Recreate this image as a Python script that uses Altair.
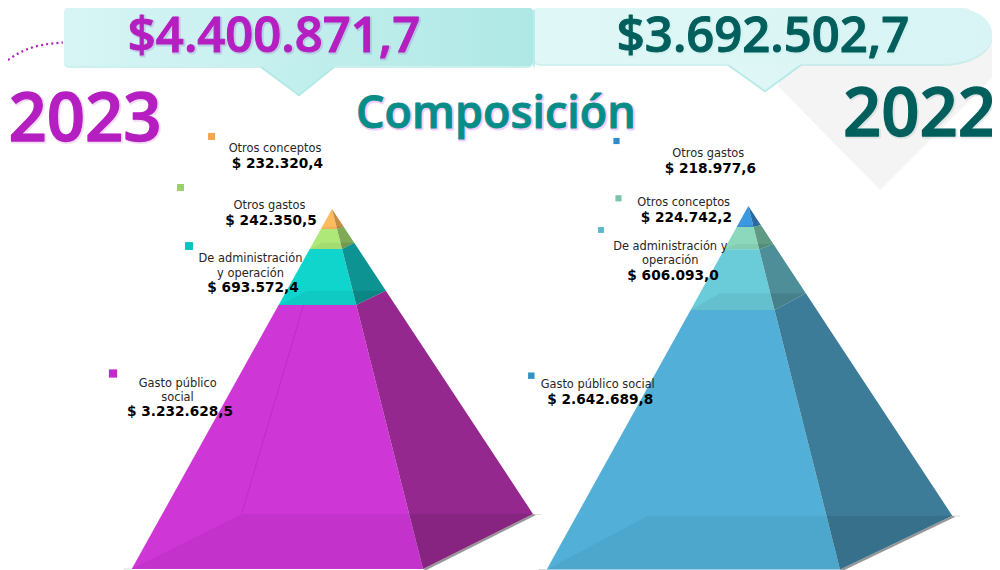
import math
import altair as alt
import pandas as pd

# ---------- data ----------
categories_2023 = ["Otros conceptos", "Otros gastos", "De administración y operación", "Gasto público social"]
values_2023 = ["$ 232.320,4", "$ 242.350,5", "$ 693.572,4", "$ 3.232.628,5"]
categories_2022 = ["Otros gastos", "Otros conceptos", "De administración y operación", "Gasto público social"]
values_2022 = ["$ 218.977,6", "$ 224.742,2", "$ 606.093,0", "$ 2.642.689,8"]
total_2023 = "$4.400.871,7"
total_2022 = "$3.692.502,7"

# ---------- geometry of the drawing (pixel space of the picture) ----------
x_scale = alt.Scale(domain=[8, 992], range=[0, 984], nice=False, zero=False)
y_scale = alt.Scale(domain=[8, 570], range=[0, 562], nice=False, zero=False)
layers = []


def poly(vertices, color, opacity=1.0):
    """Filled convex polygon as an area through the chart's scales."""
    xs = sorted({round(v[0], 3) for v in vertices})
    rows = []
    n = len(vertices)
    for x in xs:
        ys = []
        for i in range(n):
            (x0, y0), (x1, y1) = vertices[i], vertices[(i + 1) % n]
            lo, hi = min(x0, x1), max(x0, x1)
            if lo - 1e-3 <= x <= hi + 1e-3:
                if abs(x1 - x0) < 1e-6:
                    ys += [y0, y1]
                else:
                    ys.append(y0 + (y1 - y0) * (x - x0) / (x1 - x0))
        rows.append({"x": x, "y": min(ys), "y2": max(ys)})
    layers.append(
        alt.Chart(pd.DataFrame(rows))
        .mark_area(color=color, opacity=opacity, interpolate="linear")
        .encode(
            x=alt.X("x:Q", scale=x_scale, axis=None),
            y=alt.Y("y:Q", scale=y_scale, axis=None),
            y2="y2:Q",
        )
    )


def line(points, color, width=1.0, opacity=1.0, dash=None, interp="linear"):
    kw = {}
    if dash:
        kw["strokeDash"] = dash
    df = pd.DataFrame(points, columns=["x", "y"])
    df["o"] = range(len(df))
    layers.append(
        alt.Chart(df)
        .mark_line(color=color, strokeWidth=width, opacity=opacity, interpolate=interp, **kw)
        .encode(
            x=alt.X("x:Q", scale=x_scale, axis=None),
            y=alt.Y("y:Q", scale=y_scale, axis=None),
            order="o:Q",
        )
    )


def arc(cx, cy, rx, ry, a0, a1, n=10):
    return [
        (cx + rx * math.cos(math.radians(a0 + (a1 - a0) * i / n)),
         cy + ry * math.sin(math.radians(a0 + (a1 - a0) * i / n)))
        for i in range(n + 1)
    ]


def rrect(x0, y0, x1, y1, rl, rtr, rbr):
    pts = []
    pts += arc(x0 + rl, y0 + rl, rl, rl, 180, 270, 5)
    pts += arc(x1 - rtr[0], y0 + rtr[1], rtr[0], rtr[1], 270, 360)
    pts += arc(x1 - rbr[0], y1 - rbr[1], rbr[0], rbr[1], 0, 90)
    pts += arc(x0 + rl, y1 - rl, rl, rl, 90, 180, 5)
    return pts


def shifted(pts, dy):
    return [(x, y + dy) for x, y in pts]


def hgrad(c0, c1):
    return alt.Gradient(gradient="linear", x1=0, x2=1, y1=0, y2=0,
                        stops=[alt.GradientStop(color=c0, offset=0), alt.GradientStop(color=c1, offset=1)])


def pyramid(apex, bl, br, right, back, bands, floor_op=(0.05, 0.09)):
    def on(p, y):
        t = (y - apex[1]) / (p[1] - apex[1])
        return (apex[0] + (p[0] - apex[0]) * t, y)

    # soft ground shadow
    poly([br, right, (right[0] + 3, right[1] + 1), (br[0] + 3, br[1] + 1.2)], "#6a6a6a", 0.7)
    poly([(bl[0] - 8, bl[1] - 0.5), bl, (bl[0], bl[1] + 0.5), (bl[0] - 8, bl[1] + 0.5)], "#a8a8a8", 0.5)
    poly([right, (right[0] + 8, right[1]), (right[0] + 8, right[1] + 0.8), (right[0], right[1] + 0.8)], "#b0b0b0", 0.5)

    prev_f, prev_r = apex[1], apex[1]
    for yf, yr, front, side in bands:
        poly([on(bl, prev_f), on(br, prev_f), on(br, yf), on(bl, yf)], front)
        poly([on(br, prev_f), on(right, prev_r), on(right, yr), on(br, yf)], side)
        prev_f, prev_r = yf, yr
    for yf, yr, front, side in bands:
        poly([on(bl, yf), on(back, yr), on(br, yr), on(br, yf)], "#000000", floor_op[0])
        poly([on(br, yr), on(right, yr), on(br, yf)], "#000000", floor_op[1])


# gray backdrop
poly([(800, 0), (960, 0), (1000, 40), (1000, 70), (880, 190), (778, 86)], "#f4f4f4")

# right banner
b2 = rrect(532, 7, 992, 64, 8, (42, 26), (50, 28))
poly(shifted(b2, 2), "#a9e6e2", 0.55)
poly(shifted([(727, 64), (802, 64), (765, 91)], 1.5), "#a9e6e2", 0.8)
poly(b2, hgrad("#e0f7f7", "#d8f4f4"))
poly([(727, 63), (802, 63), (765, 90)], hgrad("#e0f7f7", "#dcf5f5"))

# left banner
b1 = rrect(64, 7, 533, 66, 5, (5, 5), (5, 5))
poly(shifted(b1, 2), "#a0e4e0", 0.55)
poly([(533, 9), (535, 10), (535, 66), (533, 68)], "#a0e4e0", 0.6)
poly(shifted([(260, 66), (335, 66), (299, 95)], 1.5), "#a0e4e0", 0.8)
poly(b1, hgrad("#d8f5f5", "#aee8e5"))
poly([(260, 65), (335, 65), (299, 94)], hgrad("#c6f0ef", "#bdeeec"))

# dotted arc
line([(8, 60), (20, 52.5), (32, 47.5), (45, 44.5), (63, 42.5)], "#b51ec0", 2.2, 1, [2, 3.2], "monotone")

# pyramids
pyramid((332, 209), (131.7, 569), (423, 569), (533, 514), (241.7, 513.5), [
    (229, 226.7, "#fbbb5e", "#c48b43"),
    (249, 242.7, "#ade878", "#7ea955"),
    (305, 290.7, "#10d5cd", "#0e9393"),
    (569, 514, "#ce36d6", "#95288f"),
])
line([(303.5, 305), (241.7, 513.5)], "#a020a8", 1, 0.35)

pyramid((748.3, 206), (546.7, 569.5), (840, 569.5), (952.3, 515.7), (648, 515.7), [
    (227, 225, "#3a99e0", "#2b6aa0"),
    (249.3, 244, "#8cd8bc", "#5e9a84"),
    (310, 293.3, "#6acbd9", "#4e8e99"),
    (569.5, 515.7, "#52b0d8", "#3d7c99"),
])

# legend squares
sq_x = [211.5, 180.5, 189, 113, 616.5, 618.5, 601, 531.3]
sq_y = [136.5, 187.5, 246, 373.5, 141, 198.3, 230, 375.7]
sq_c = ["#f2a850", "#9bd06a", "#05c3c0", "#c02cc8", "#2f8bd0", "#7cc4a8", "#58b8c8", "#3494c0"]
sq_s = [50, 50, 62, 68, 38, 38, 34, 42]
layers.append(
    alt.Chart(pd.DataFrame({"x": sq_x, "y": sq_y, "c": sq_c, "s": sq_s}))
    .mark_square(opacity=1, filled=True)
    .encode(
        x=alt.X("x:Q", scale=x_scale, axis=None),
        y=alt.Y("y:Q", scale=y_scale, axis=None),
        color=alt.Color("c:N", scale=None),
        size=alt.Size("s:Q", scale=None),
    )
)


def text(s, x, y, size, color, weight="normal", font="DejaVu Sans", opacity=1.0, stroke=None, sw=0):
    kw = {}
    if stroke:
        kw = {"stroke": stroke, "strokeWidth": sw, "strokeJoin": "round"}
    layers.append(
        alt.Chart(pd.DataFrame({"x": [x], "y": [y], "t": [s]}))
        .mark_text(font=font, fontSize=size, fontWeight=weight, color=color, align="center",
                   baseline="alphabetic", opacity=opacity, **kw)
        .encode(
            x=alt.X("x:Q", scale=x_scale, axis=None),
            y=alt.Y("y:Q", scale=y_scale, axis=None),
            text="t:N",
        )
    )


TITLE_FONT = "Open Sans"


def big(s, x, y, size, color, shadow, op=0.3, thick=1.0):
    text(s, x + 1, y + 1, size, shadow, 600, TITLE_FONT, op, shadow, 3)
    text(s, x, y, size, color, 600, TITLE_FONT, 1.0, color, thick)


big(total_2023, 274, 52, 49, "#b51ec0", "#9a7fc8", 0.3)
big(total_2022, 763, 52, 49, "#005f5c", "#a0d8d4", 0.15)
big("2023", 85, 141, 67, "#b51ec0", "#d8a0e0", 0.35, 1.3)
big("2022", 919.5, 136, 67, "#005f5c", "#a0b0b0", 0.25, 1.3)
big("Composición", 496, 128, 45, "#058e88", "#e890f0", 0.45, 0.9)

LAB = "#262626"
LS = 11.4
VS = 13.7
text(categories_2023[0], 275, 152, LS, LAB)
text(values_2023[0], 277.3, 168, VS, "#000000", "bold")
text(categories_2023[1], 269.5, 209, LS, LAB)
text(values_2023[1], 271, 225, VS, "#000000", "bold")
text("De administración", 250.5, 262, LS, LAB)
text("y operación", 250.5, 276.5, LS, LAB)
text(values_2023[2], 253, 292, VS, "#000000", "bold")
text("Gasto público", 177.7, 386.7, LS, LAB)
text("social", 177.5, 400.7, LS, LAB)
text(values_2023[3], 180, 416, VS, "#000000", "bold")

text(categories_2022[0], 708.3, 157, LS, LAB)
text(values_2022[0], 710.3, 172.7, VS, "#000000", "bold")
text(categories_2022[1], 683.7, 206, LS, LAB)
text(values_2022[1], 686.3, 221.7, VS, "#000000", "bold")
text("De administración y", 670.3, 250, LS, LAB)
text("operación", 670.3, 264, LS, LAB)
text(values_2022[2], 673, 280, VS, "#000000", "bold")
text(categories_2022[3], 597.7, 387.7, LS, LAB)
text(values_2022[3], 600.3, 404, VS, "#000000", "bold")

chart = (
    alt.layer(*layers)
    .properties(width=984, height=562, padding=0, autosize=alt.AutoSizeParams(type="none"))
    .configure_view(stroke=None)
)
chart.save("out.html", embed_options={"renderer": "svg", "actions": False})
